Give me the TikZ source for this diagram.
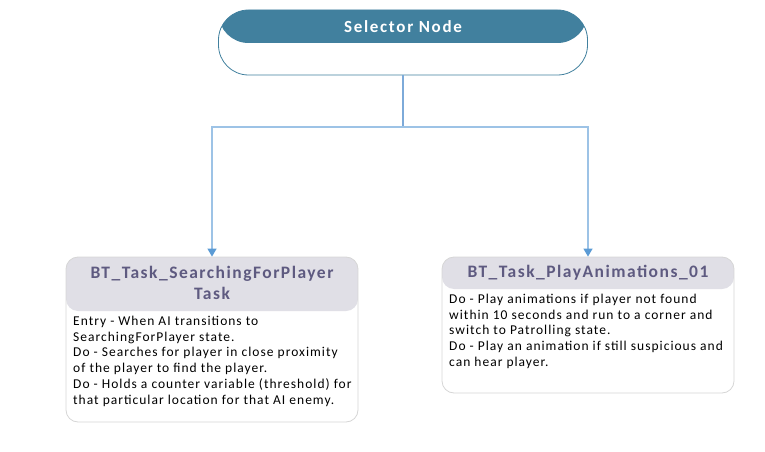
\documentclass[tikz,border=0pt]{standalone}
\usepackage{fontspec}
\setmainfont{Carlito}
\newfontfamily\bodyfont[LetterSpace=7.5]{Carlito}
\newfontfamily\titlefont[LetterSpace=8.5]{Carlito}
\newfontfamily\selfont[LetterSpace=10]{Carlito}
\usetikzlibrary{arrows.meta}
\definecolor{selhead}{HTML}{41809E}
\definecolor{taskhead}{HTML}{E0DFE6}
\definecolor{taskline}{HTML}{D6D6D6}
\definecolor{tasktitle}{HTML}{5E5A80}
\definecolor{linkline}{HTML}{9DC3E6}
\definecolor{linkdark}{HTML}{7DAAD9}
\definecolor{linktip}{HTML}{5B9BD5}
\tikzset{
  selnode/.style={draw=selhead, fill=white, line width=0.8pt, rounded corners=30pt,
                  minimum width=369pt, minimum height=65pt, inner sep=0pt,
                  path picture={\fill[selhead] (path picture bounding box.north west)
                    rectangle ([yshift=-33pt]path picture bounding box.north east);}},
  taskbox/.style={draw=taskline, fill=white, line width=0.8pt, rounded corners=12pt,
                  minimum width=292pt, inner sep=0pt,
                  path picture={\fill[taskhead] (path picture bounding box.north west)
                    rectangle ([yshift=-#1]path picture bounding box.north east);}},
  seltitle/.style={font=\selfont\bfseries\fontsize{17}{20}\selectfont, text=white, inner sep=0pt},
  tasktitle/.style={font=\titlefont\bfseries\fontsize{17.5}{21}\selectfont, text=tasktitle,
                    align=center, inner sep=0pt},
  tasktext/.style={font=\bodyfont\fontsize{13.5}{15.7}\selectfont, align=left, anchor=north west,
                   inner sep=0pt},
  link/.style={draw=linkline, line width=1.3pt, -{Triangle[width=9pt,length=8pt,color=linktip]}},
}
\begin{document}
\begin{tikzpicture}[x=1pt, y=-1pt]
  \useasboundingbox (0,0) rectangle (765,452);
  % selector
  \node[selnode] (sel) at (403,42.5) {};
  \node[seltitle] (seltext) at (403,27) {Selector Node};
  % tasks
  \node[taskbox=54pt, minimum height=165pt] (searchbox) at (212,339.5) {};
  \node[tasktitle] (searchtitle) at (212,283) {BT\_Task\_SearchingForPlayer\\Task};
  \node[tasktext] (searchtext) at (73,316) {Entry - When AI transitions to\\
    SearchingForPlayer state.\\
    Do - Searches for player in close proximity\\
    of the player to find the player.\\
    Do - Holds a counter variable (threshold) for\\
    that particular location for that AI enemy.};
  \node[taskbox=32pt, minimum height=136pt] (playbox) at (588,325) {};
  \node[tasktitle] (playtitle) at (588,273) {BT\_Task\_PlayAnimations\_01};
  \node[tasktext] (playtext) at (449,294) {Do - Play animations if player not found\\
    within 10 seconds and run to a corner and\\
    switch to Patrolling state.\\
    Do - Play an animation if still suspicious and\\
    can hear player.};
  % links
  \coordinate (split) at (403,127);
  \draw[link, draw=linkdark, -] (sel.south) -- (split);
  \draw[link] (split) -| (searchbox.north);
  \draw[link] (split) -| (playbox.north);
\end{tikzpicture}
\end{document}
